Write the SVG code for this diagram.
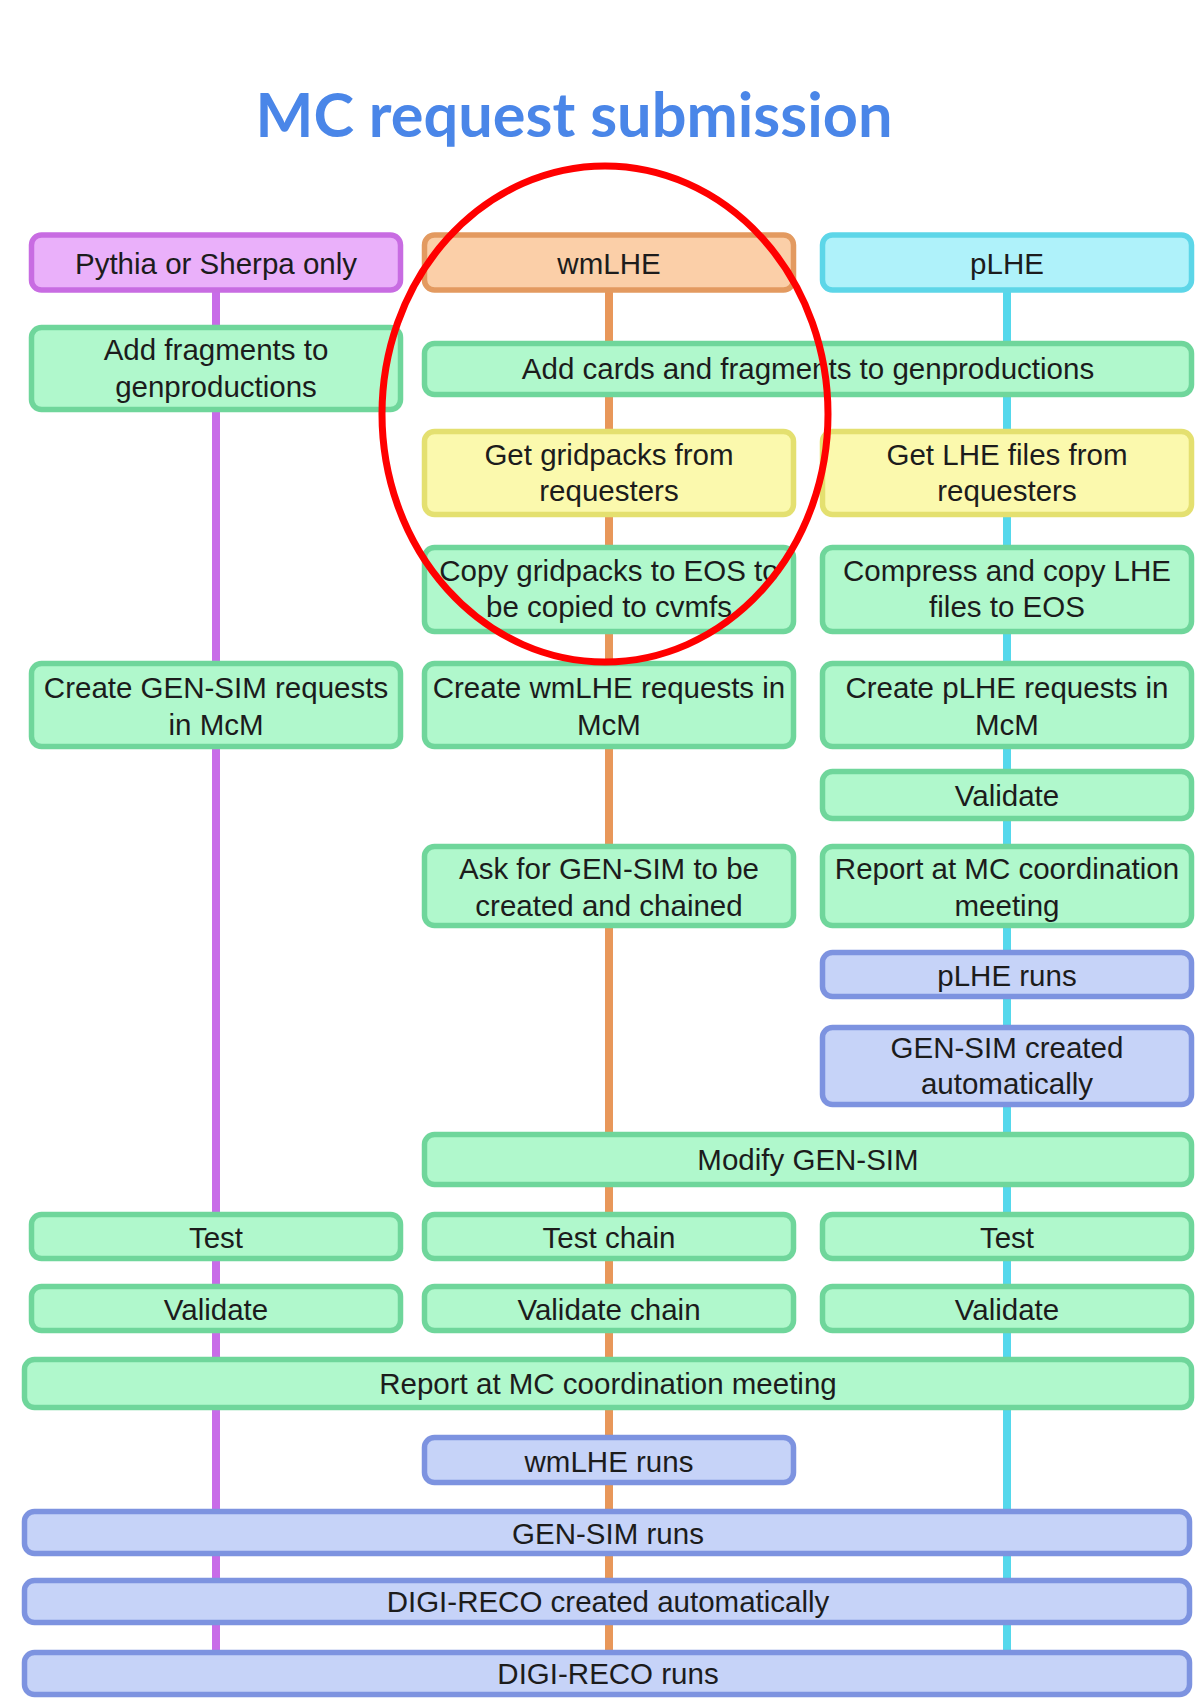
<svg xmlns="http://www.w3.org/2000/svg" width="1197" height="1699" viewBox="0 0 1197 1699">
<style>
.bx{stroke-width:5.5}
.g{fill:#b0f8cc;stroke:#6fd69b}
.pu{fill:#eab0fa;stroke:#c86ce2}
.or{fill:#fbcfa8;stroke:#e39a60}
.cy{fill:#aff2fa;stroke:#5dd6e8}
.ye{fill:#fbf9ad;stroke:#e4e070}
.bl{fill:#c6d3f8;stroke:#7d93e0}
.t{font-family:"Liberation Sans",Arial,sans-serif;font-size:29.5px;fill:#1c1c1c;text-anchor:middle}
.ln{stroke-width:8;fill:none}
</style>
<rect width="1197" height="1699" fill="#ffffff"/>
<text x="574" y="137" font-family="Lato,'Open Sans',sans-serif" font-weight="700" font-size="62" fill="#4a86e8" text-anchor="middle" textLength="637" lengthAdjust="spacingAndGlyphs">MC request submission</text>
<g id="connectors">
<line class="ln" x1="216" y1="292" x2="216" y2="1652" stroke="#c86ce8"/>
<line class="ln" x1="609" y1="292" x2="609" y2="1652" stroke="#e8975a"/>
<line class="ln" x1="1007" y1="292" x2="1007" y2="1652" stroke="#55d8ec"/>
</g>
<g id="n-pythia"><rect class="bx pu" x="31.5" y="235" width="369" height="55" rx="10"/><text class="t" x="216" y="273.5">Pythia or Sherpa only</text></g>
<g id="n-wmlhe"><rect class="bx or" x="424.5" y="235" width="369" height="55" rx="10"/><text class="t" x="609" y="273.5">wmLHE</text></g>
<g id="n-plhe"><rect class="bx cy" x="822.5" y="235" width="369" height="55" rx="10"/><text class="t" x="1007" y="273.5">pLHE</text></g>
<g id="n-addfrag"><rect class="bx g" x="31.5" y="327.5" width="369" height="82" rx="10"/><text class="t" x="216" y="360">Add fragments to</text><text class="t" x="216" y="397">genproductions</text></g>
<g id="n-addcards"><rect class="bx g" x="424.5" y="343.5" width="767" height="51" rx="10"/><text class="t" x="808" y="379">Add cards and fragments to genproductions</text></g>
<g id="n-getgrid"><rect class="bx ye" x="424.5" y="431.5" width="369" height="83" rx="10"/><text class="t" x="609" y="465">Get gridpacks from</text><text class="t" x="609" y="501">requesters</text></g>
<g id="n-getlhe"><rect class="bx ye" x="822.5" y="431.5" width="369" height="83" rx="10"/><text class="t" x="1007" y="465">Get LHE files from</text><text class="t" x="1007" y="501">requesters</text></g>
<g id="n-copygrid"><rect class="bx g" x="424.5" y="547.5" width="369" height="84" rx="10"/><text class="t" x="609" y="581">Copy gridpacks to EOS to</text><text class="t" x="609" y="617">be copied to cvmfs</text></g>
<g id="n-compress"><rect class="bx g" x="822.5" y="547.5" width="369" height="84" rx="10"/><text class="t" x="1007" y="581">Compress and copy LHE</text><text class="t" x="1007" y="617">files to EOS</text></g>
<g id="n-creategs"><rect class="bx g" x="31.5" y="663.5" width="369" height="83" rx="10"/><text class="t" x="216" y="698">Create GEN-SIM requests</text><text class="t" x="216" y="735">in McM</text></g>
<g id="n-createwm"><rect class="bx g" x="424.5" y="663.5" width="369" height="83" rx="10"/><text class="t" x="609" y="698">Create wmLHE requests in</text><text class="t" x="609" y="735">McM</text></g>
<g id="n-createp"><rect class="bx g" x="822.5" y="663.5" width="369" height="83" rx="10"/><text class="t" x="1007" y="698">Create pLHE requests in</text><text class="t" x="1007" y="735">McM</text></g>
<g id="n-validate3a"><rect class="bx g" x="822.5" y="771.5" width="369" height="47" rx="10"/><text class="t" x="1007" y="806">Validate</text></g>
<g id="n-askgs"><rect class="bx g" x="424.5" y="846.5" width="369" height="79" rx="10"/><text class="t" x="609" y="879">Ask for GEN-SIM to be</text><text class="t" x="609" y="916">created and chained</text></g>
<g id="n-report3"><rect class="bx g" x="822.5" y="846.5" width="369" height="79" rx="10"/><text class="t" x="1007" y="879">Report at MC coordination</text><text class="t" x="1007" y="916">meeting</text></g>
<g id="n-plheruns"><rect class="bx bl" x="822.5" y="952.5" width="369" height="44" rx="10"/><text class="t" x="1007" y="985.5">pLHE runs</text></g>
<g id="n-gsauto"><rect class="bx bl" x="822.5" y="1027.5" width="369" height="77" rx="10"/><text class="t" x="1007" y="1057.5">GEN-SIM created</text><text class="t" x="1007" y="1094">automatically</text></g>
<g id="n-modify"><rect class="bx g" x="424.5" y="1134.5" width="767" height="50" rx="10"/><text class="t" x="808" y="1170">Modify GEN-SIM</text></g>
<g id="n-test1"><rect class="bx g" x="31.5" y="1214.5" width="369" height="44" rx="10"/><text class="t" x="216" y="1248">Test</text></g>
<g id="n-test2"><rect class="bx g" x="424.5" y="1214.5" width="369" height="44" rx="10"/><text class="t" x="609" y="1248">Test chain</text></g>
<g id="n-test3"><rect class="bx g" x="822.5" y="1214.5" width="369" height="44" rx="10"/><text class="t" x="1007" y="1248">Test</text></g>
<g id="n-val1"><rect class="bx g" x="31.5" y="1286.5" width="369" height="44" rx="10"/><text class="t" x="216" y="1320">Validate</text></g>
<g id="n-val2"><rect class="bx g" x="424.5" y="1286.5" width="369" height="44" rx="10"/><text class="t" x="609" y="1320">Validate chain</text></g>
<g id="n-val3"><rect class="bx g" x="822.5" y="1286.5" width="369" height="44" rx="10"/><text class="t" x="1007" y="1320">Validate</text></g>
<g id="n-report"><rect class="bx g" x="24.5" y="1359.5" width="1167" height="48" rx="10"/><text class="t" x="608" y="1394">Report at MC coordination meeting</text></g>
<g id="n-wmruns"><rect class="bx bl" x="424.5" y="1437.5" width="369" height="45" rx="10"/><text class="t" x="609" y="1472">wmLHE runs</text></g>
<g id="n-gsruns"><rect class="bx bl" x="24.5" y="1511.5" width="1165" height="42" rx="10"/><text class="t" x="608" y="1544">GEN-SIM runs</text></g>
<g id="n-digiauto"><rect class="bx bl" x="24.5" y="1580.5" width="1165" height="42" rx="10"/><text class="t" x="608" y="1612">DIGI-RECO created automatically</text></g>
<g id="n-digiruns"><rect class="bx bl" x="24.5" y="1652.5" width="1165" height="42" rx="10"/><text class="t" x="608" y="1684">DIGI-RECO runs</text></g>
<ellipse cx="605" cy="414" rx="223" ry="248" fill="none" stroke="#ff0000" stroke-width="7"/>
</svg>
